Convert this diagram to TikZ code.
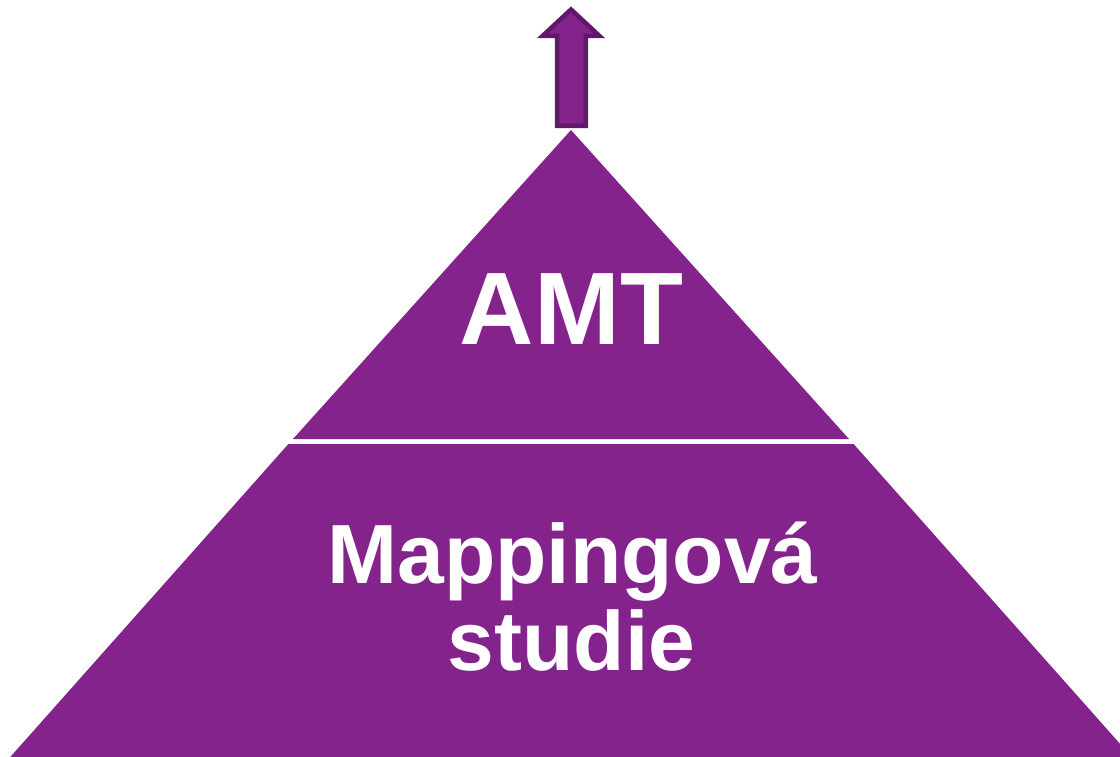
\documentclass[tikz,border=0pt]{standalone}
\usepackage{fontspec}
\setmainfont{Liberation Sans}
\definecolor{pyr}{RGB}{133,35,141}
\definecolor{pyrdark}{RGB}{96,24,104}
\tikzset{
  layer/.style={fill=pyr, draw=none},
  lbl/.style={text=white, font=\bfseries, anchor=base, inner sep=0pt},
  uparrow/.style={fill=pyr, draw=pyrdark, line width=4.5pt, line join=miter}
}
\begin{document}
\begin{tikzpicture}[x=1pt, y=-1pt]
\useasboundingbox (0,0) rectangle (1120,757);
\clip (0,0) rectangle (1120,757);
% top triangle
\path[layer] (571,130) -- (849,439) -- (293,439) -- cycle;
% bottom trapezoid
\path[layer] (288.4,444) -- (853.6,444) -- (1134.4,760) -- (7.6,760) -- cycle;
% arrow
\draw[uparrow] (571,9.5) -- (599.5,36) -- (585.8,36) -- (585.8,125.8) -- (557.2,125.8) -- (557.2,36) -- (542.5,36) -- cycle;
\node[lbl, font=\bfseries\fontsize{103}{110}\selectfont] (amt) at (571.5,344) {AMT};
\node[lbl, font=\bfseries\fontsize{84}{87}\selectfont] (map) at (572.5,583) {Mappingová};
\node[lbl, font=\bfseries\fontsize{84}{87}\selectfont] (stu) at (571.5,670) {studie};
\end{tikzpicture}
\end{document}
